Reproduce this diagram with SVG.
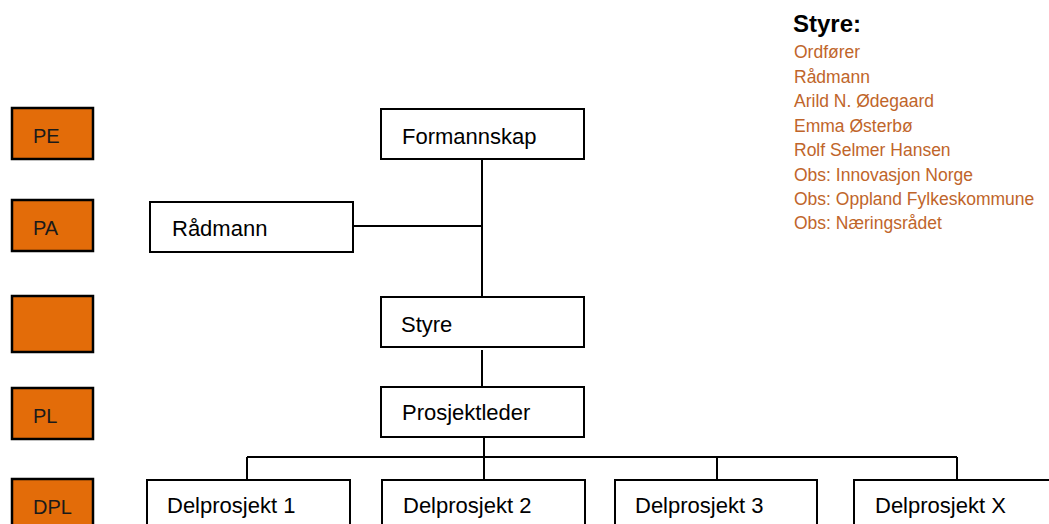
<svg xmlns="http://www.w3.org/2000/svg" width="1049" height="524" viewBox="0 0 1049 524">
<style>
.box{fill:#fff;stroke:#000;stroke-width:2}
.ob{fill:#E36C09;stroke:#000;stroke-width:2.5}
.t{font-family:"Liberation Sans",Arial,sans-serif;font-size:22px;fill:#000}
.ot{font-family:"Liberation Sans",Arial,sans-serif;font-size:20px;fill:#1a1a1a}
.ln{stroke:#000;stroke-width:2;fill:none}
.h{font-family:"Liberation Sans",Arial,sans-serif;font-size:24px;font-weight:bold;fill:#000}
.li{font-family:"Liberation Sans",Arial,sans-serif;font-size:17.5px;fill:#C0652A}
</style>
<rect width="1049" height="524" fill="#fff"/>
<g id="connectors">
<path class="ln" d="M482 159V297M353 226H482M482 350V388M484 437V457M247 457H957M247 457V480M484 457V480M717 457V480M957 457V480"/>
</g>
<g id="pe"><rect class="ob" x="12" y="108" width="81" height="51"/><text class="ot" x="33" y="143">PE</text></g>
<g id="pa"><rect class="ob" x="12" y="200" width="81" height="51"/><text class="ot" x="33" y="235">PA</text></g>
<g id="blank"><rect class="ob" x="12" y="296" width="81" height="56"/></g>
<g id="pl"><rect class="ob" x="12" y="388" width="81" height="51"/><text class="ot" x="33" y="423">PL</text></g>
<g id="dpl"><rect class="ob" x="12" y="479" width="81" height="60"/><text class="ot" x="33" y="514">DPL</text></g>
<g id="formannskap"><rect class="box" x="381" y="109" width="203" height="50"/><text class="t" x="402" y="144">Formannskap</text></g>
<g id="radmann"><rect class="box" x="150" y="202" width="203" height="50"/><text class="t" x="172" y="236">Rådmann</text></g>
<g id="styre"><rect class="box" x="381" y="297" width="203" height="50"/><text class="t" x="401" y="332">Styre</text></g>
<g id="prosjektleder"><rect class="box" x="381" y="387" width="203" height="50"/><text class="t" x="402" y="420">Prosjektleder</text></g>
<g id="dp1"><rect class="box" x="147" y="480" width="203" height="60"/><text class="t" x="167" y="513">Delprosjekt 1</text></g>
<g id="dp2"><rect class="box" x="382" y="480" width="203" height="60"/><text class="t" x="403" y="513">Delprosjekt 2</text></g>
<g id="dp3"><rect class="box" x="615" y="480" width="202" height="60"/><text class="t" x="635" y="513">Delprosjekt 3</text></g>
<g id="dpx"><rect class="box" x="854" y="480" width="210" height="60"/><text class="t" x="875" y="513">Delprosjekt X</text></g>
<g id="styre-list">
<text class="h" x="793" y="32">Styre:</text>
<text class="li" x="794" y="58">Ordfører</text>
<text class="li" x="794" y="83">Rådmann</text>
<text class="li" x="794" y="107">Arild N. Ødegaard</text>
<text class="li" x="794" y="132">Emma Østerbø</text>
<text class="li" x="794" y="156">Rolf Selmer Hansen</text>
<text class="li" x="794" y="181">Obs: Innovasjon Norge</text>
<text class="li" x="794" y="205">Obs: Oppland Fylkeskommune</text>
<text class="li" x="794" y="229">Obs: Næringsrådet</text>
</g>
</svg>
